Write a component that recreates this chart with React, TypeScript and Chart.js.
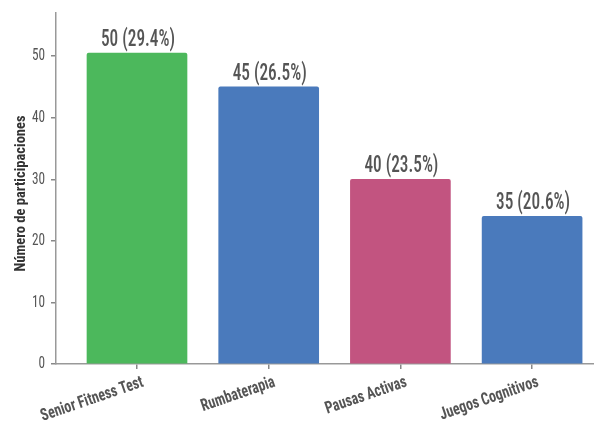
import React, { useEffect, useRef } from "react";
import { Chart, registerables } from "chart.js";

Chart.register(...registerables);

const categories = ["Senior Fitness Test", "Rumbaterapia", "Pausas Activas", "Juegos Cognitivos"];
const barValues = [50.5, 45, 30, 24];
const valueLabels = ["50 (29.4%)", "45 (26.5%)", "40 (23.5%)", "35 (20.6%)"];
const barColors = ["#4cb85c", "#4a7abc", "#c25480", "#4a7abc"];
const yTicks = [0, 10, 20, 30, 40, 50];
const yTitle = "Número de participaciones";

const FONT = '"Roboto Condensed", Roboto, sans-serif';
const TEXT = "#555555";

const textPlugin = {
  id: "condensedText",
  afterDatasetsDraw(chart: any) {
    const ctx = chart.ctx;
    const meta = chart.getDatasetMeta(0);
    const xs = chart.scales.x;
    const ys = chart.scales.y;
    ctx.save();
    // value labels
    ctx.font = `500 24px ${FONT}`;
    ctx.fillStyle = TEXT;
    ctx.textAlign = "center";
    ctx.textBaseline = "alphabetic";
    meta.data.forEach((bar: any, i: number) => {
      ctx.save();
      ctx.translate(bar.x + 1, bar.y - 7);
      ctx.scale(0.72, 1);
      ctx.fillText(valueLabels[i], 0, 0);
      ctx.restore();
    });
    // x tick labels
    ctx.font = `bold 17px ${FONT}`;
    ctx.textAlign = "right";
    ctx.textBaseline = "middle";
    categories.forEach((c, i) => {
      const px = xs.getPixelForValue(i);
      ctx.save();
      ctx.translate(px + 6, xs.top + 18);
      ctx.rotate((-19 * Math.PI) / 180);
      ctx.scale(0.82, 1);
      ctx.fillText(c, 0, 0);
      ctx.restore();
    });
    // y tick labels
    ctx.font = `17px ${FONT}`;
    ctx.textAlign = "right";
    ctx.textBaseline = "middle";
    yTicks.forEach((t) => {
      const py = ys.getPixelForValue(t);
      ctx.save();
      ctx.translate(ys.right - 11, py);
      ctx.scale(0.78, 1);
      ctx.fillText(String(t), 0, 0);
      ctx.restore();
    });
    // y title
    ctx.font = `bold 14.5px ${FONT}`;
    ctx.fillStyle = "#333333";
    ctx.textAlign = "center";
    ctx.textBaseline = "middle";
    ctx.save();
    ctx.translate(21, 193.5);
    ctx.rotate(-Math.PI / 2);
    ctx.fillText(yTitle, 0, 0);
    ctx.restore();
    ctx.restore();
  },
};

export default function App() {
  const ref = useRef<HTMLCanvasElement | null>(null);
  useEffect(() => {
    document.body.style.margin = "0";
    if (!ref.current) return;
    const chart = new Chart(ref.current, {
      type: "bar",
      data: {
        datasets: [
          {
            data: barValues.map((v, i) => ({ x: i, y: v })),
            backgroundColor: barColors,
            borderRadius: 2,
            borderSkipped: "bottom",
            barThickness: 100,
          },
        ],
      },
      options: {
        animation: false,
        responsive: false,
        maintainAspectRatio: false,
        layout: { padding: { top: 13, right: 0, left: 0, bottom: 0 } },
        plugins: { legend: { display: false }, tooltip: { enabled: false } },
        scales: {
          x: {
            type: "linear",
            offset: false,
            min: -0.615,
            max: 3.47,
            afterBuildTicks: (scale: any) => {
              scale.ticks = categories.map((_, i) => ({ value: i }));
            },
            afterFit: (scale: any) => {
              scale.height = 57;
            },
            ticks: { display: false },
            grid: { display: true, offset: false, drawOnChartArea: false, drawTicks: true, tickLength: 5, color: "#888888", lineWidth: 1.5 },
            border: { display: true, color: "#999999", width: 1.5 },
          },
          y: {
            min: 0,
            max: 57,
            afterBuildTicks: (scale: any) => {
              scale.ticks = yTicks.map((v) => ({ value: v }));
            },
            afterFit: (scale: any) => {
              scale.width = 56;
            },
            ticks: { display: false },
            grid: { display: true, drawOnChartArea: false, drawTicks: true, tickLength: 5, color: "#888888", lineWidth: 1.5 },
            border: { display: true, color: "#999999", width: 1.5 },
          },
        },
      },
      plugins: [textPlugin],
    } as any);
    return () => chart.destroy();
  }, []);
  return (
    <div style={{ width: 594, height: 421, background: "#ffffff" }}>
      <canvas ref={ref} width={594} height={421} style={{ display: "block" }} />
    </div>
  );
}
